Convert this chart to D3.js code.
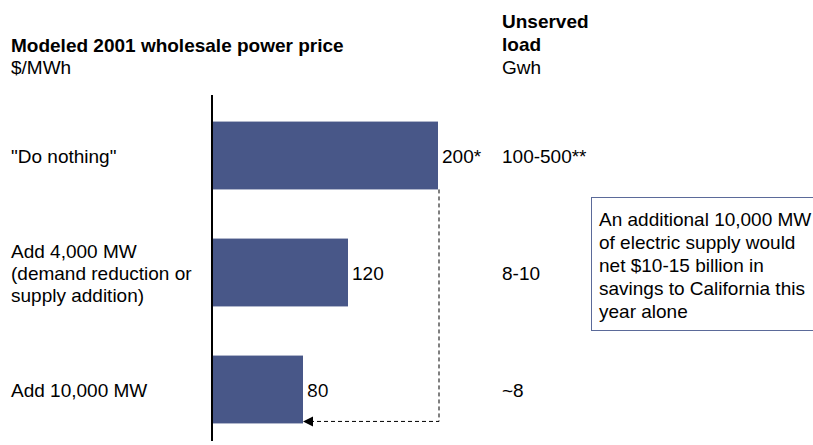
<!DOCTYPE html>
<html>
<head>
<meta charset="utf-8">
<script src="https://cdn.jsdelivr.net/npm/d3@7"></script>
<style>
  html, body { margin: 0; padding: 0; background: #ffffff; }
  svg { display: block; }
  text { font-family: "Liberation Sans", Arial, sans-serif; fill: #000; }
</style>
</head>
<body>
<svg id="chart" width="813" height="445"></svg>
<script>
// Scenarios and their modeled outcomes
const scenarios = ["Do nothing", "Add 4,000 MW", "Add 10,000 MW"];
const scenarioLines = [
  ["\"Do nothing\""],
  ["Add 4,000 MW", "(demand reduction or", "supply addition)"],
  ["Add 10,000 MW"]
];
const prices = [200, 120, 80];                 // $/MWh
const priceLabels = ["200*", "120", "80"];
const unservedLoad = ["100-500**", "8-10", "~8"]; // GWh
const noteLines = [
  "An additional 10,000 MW",
  "of electric supply would",
  "net $10-15 billion in",
  "savings to California this",
  "year alone"
];

const svg = d3.select("#chart");
const barColor = "#485788";

const y = d3.scaleBand()
  .domain(scenarios)
  .range([97, 448])
  .paddingInner(0.42)
  .paddingOuter(0.21);

const x = d3.scaleLinear()
  .domain([0, 200])
  .range([213, 438]);

// Headers
svg.append("text").attr("x", 11).attr("y", 52)
  .attr("font-size", 19).attr("font-weight", "bold")
  .text("Modeled 2001 wholesale power price");
svg.append("text").attr("x", 11).attr("y", 74)
  .attr("font-size", 19).text("$/MWh");

svg.append("text").attr("x", 502).attr("y", 28)
  .attr("font-size", 19).attr("font-weight", "bold").text("Unserved");
svg.append("text").attr("x", 502).attr("y", 51)
  .attr("font-size", 19).attr("font-weight", "bold").text("load");
svg.append("text").attr("x", 502).attr("y", 74)
  .attr("font-size", 19).text("Gwh");

// Bars
svg.selectAll("rect.bar")
  .data(scenarios)
  .join("rect")
  .attr("class", "bar")
  .attr("x", x(0))
  .attr("y", d => y(d))
  .attr("width", (d, i) => x(prices[i]) - x(0))
  .attr("height", y.bandwidth())
  .attr("fill", barColor);

// Vertical baseline
svg.append("line")
  .attr("x1", x(0) - 1).attr("x2", x(0) - 1)
  .attr("y1", 95).attr("y2", 441)
  .attr("stroke", "#000").attr("stroke-width", 2);

// Scenario labels
scenarios.forEach((s, i) => {
  const lines = scenarioLines[i];
  const mid = y(s) + y.bandwidth() / 2;
  const lh = 22;
  const first = mid + 7 - (lines.length - 1) * lh / 2;
  lines.forEach((t, j) => {
    svg.append("text").attr("x", 11).attr("y", first + j * lh)
      .attr("font-size", 19).text(t);
  });
});

// Price value labels
svg.selectAll("text.price")
  .data(scenarios)
  .join("text")
  .attr("class", "price")
  .attr("x", (d, i) => x(prices[i]) + 4)
  .attr("y", d => y(d) + y.bandwidth() / 2 + 7)
  .attr("font-size", 19)
  .style("font-family", (d, i) => i === 2 ? "'Open Sans', sans-serif" : null)
  .text((d, i) => priceLabels[i]);

// Unserved load values
svg.selectAll("text.load")
  .data(scenarios)
  .join("text")
  .attr("class", "load")
  .attr("x", 502)
  .attr("y", d => y(d) + y.bandwidth() / 2 + 7)
  .attr("font-size", 19)
  .text((d, i) => unservedLoad[i]);

// Dashed connector from the "do nothing" price down to the 10,000 MW price
const xTop = x(prices[0]) + 1;
const yStart = y(scenarios[0]) + y.bandwidth();
const yEnd = y(scenarios[2]) + y.bandwidth() - 2;
const xEnd = x(prices[2]);

svg.append("path")
  .attr("d", `M${xTop},${yStart} V${yEnd} H${xEnd + 9}`)
  .attr("fill", "none")
  .attr("stroke", "#000")
  .attr("stroke-width", 1)
  .attr("stroke-dasharray", "4,3");

svg.append("path")
  .attr("d", `M${xEnd},${yEnd} L${xEnd + 10},${yEnd - 5} L${xEnd + 10},${yEnd + 5} Z`)
  .attr("fill", "#000");

// Note box
const box = svg.append("g");
box.append("rect")
  .attr("x", 591.5).attr("y", 197.5)
  .attr("width", 240).attr("height", 133)
  .attr("fill", "#fff")
  .attr("stroke", "#5b6a99").attr("stroke-width", 1);
noteLines.forEach((t, i) => {
  box.append("text").attr("x", 599).attr("y", 226 + i * 23)
    .attr("font-size", 19).text(t);
});
</script>
</body>
</html>
